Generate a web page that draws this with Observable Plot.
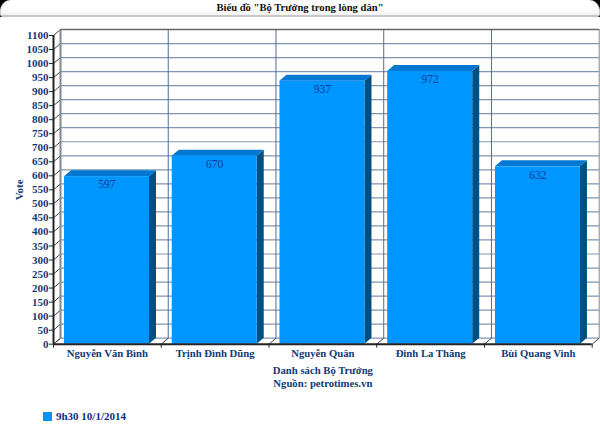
<!DOCTYPE html>
<html><head><meta charset="utf-8">
<script src="https://cdn.jsdelivr.net/npm/d3@7"></script>
<script src="https://cdn.jsdelivr.net/npm/@observablehq/plot@0.6"></script>
<style>
html,body{margin:0;padding:0;background:#fff;width:600px;height:429px;overflow:hidden;font-family:"Liberation Serif",serif;font-weight:bold}
#band{height:17px;background:#000;box-sizing:border-box}
#title{height:17px;box-sizing:border-box;background:linear-gradient(#fff 55%,#f2f2f2);border:1px solid #ccc;border-top:none;border-bottom:2px solid #c8c8c8;border-radius:11px 11px 3px 3px;text-align:center;font-size:10.6px;line-height:16px;color:#111}
#legend{position:absolute;left:43px;top:411px;display:flex;align-items:center;font-size:11px;color:#0d2a8c;line-height:10px}
#legend i{display:block;width:9px;height:9px;background:#0094ff;margin-right:4px}
</style></head><body>
<div id="band"><div id="title">Biểu đồ "Bộ Trưởng trong lòng dân"</div></div>
<div id="chart"></div>
<div id="legend"><i></i><span>9h30 10/1/2014</span></div>
<script>
const ministers = ["Nguyễn Văn Bình","Trịnh Đình Dũng","Nguyễn Quân","Đinh La Thăng","Bùi Quang Vinh"];
const votes = [597,670,937,972,632];
const yTicks = d3.range(0,1101,50);
const edges = [0,1,2,3,4,5];
const depthX = 0.065, depthY = 21.4;
const barStart = 0.102, barEnd = 0.891;
const navy = "#123a78", grid = "#8294b4", wall = "#808890";
const front = "#0096ff", topC = "#0078d2", side = "#004f82";

const bars = ministers.map((name,i)=>({name,i,v:votes[i],x1:i+barStart,x2:i+barEnd}));
const topRows = bars.flatMap(b=>[
  {z:b.i,y:b.v,x1:b.x1,x2:b.x2},
  {z:b.i,y:b.v+depthY,x1:b.x1+depthX,x2:b.x2+depthX}]);
const sideRows = bars.flatMap(b=>[
  {z:b.i,x:b.x2,y1:0,y2:b.v},
  {z:b.i,x:b.x2+depthX,y1:depthY,y2:b.v+depthY}]);

const plot = Plot.plot({
  width:600,height:382,
  marginLeft:53,marginRight:8.3,marginTop:18,marginBottom:55.3,
  x:{type:"linear",domain:[0,5]},
  y:{type:"linear",domain:[0,1100]},
  style:{display:"block",background:"transparent",fontFamily:"'Liberation Serif',serif",fontWeight:"bold"},
  marks:[
    Plot.link(yTicks,{x1:depthX,x2:5+depthX,y1:d=>d+depthY,y2:d=>d+depthY,stroke:grid,strokeWidth:1.2}),
    Plot.link(edges.slice(1,5),{x1:d=>d+depthX,x2:d=>d+depthX,y1:depthY,y2:1100+depthY,stroke:"#4f6d9c",strokeWidth:1}),
    Plot.link(yTicks.slice(0,-1),{x1:0,x2:depthX,y1:d=>d,y2:d=>d+depthY,stroke:"#444",strokeWidth:1}),
    Plot.link(edges,{x1:d=>d,x2:d=>d+depthX,y1:0,y2:depthY,stroke:"#444",strokeWidth:1}),
    Plot.link([1100],{x1:0,x2:depthX,y1:1100,y2:1100+depthY,stroke:"#444",strokeWidth:1}),
    Plot.link([0],{x1:depthX,x2:depthX,y1:depthY,y2:1100+depthY,stroke:wall,strokeWidth:2}),
    Plot.link([0],{x1:5+depthX,x2:5+depthX,y1:depthY,y2:1100+depthY,stroke:wall,strokeWidth:1}),
    Plot.link([0],{x1:depthX,x2:5+depthX,y1:1100+depthY,y2:1100+depthY,stroke:"#666",strokeWidth:1.5}),
    Plot.areaY(sideRows,{x:"x",y1:"y1",y2:"y2",z:"z",fill:side}),
    Plot.areaX(topRows,{y:"y",x1:"x1",x2:"x2",z:"z",fill:topC}),
    Plot.rect(bars,{x1:"x1",x2:"x2",y1:0,y2:"v",fill:front}),
    Plot.text(bars,{x:d=>d.i+0.4965,y:"v",dy:8,text:d=>String(d.v),fill:"#0a3a96",fontSize:11.5,fontWeight:"normal"}),
    Plot.ruleX([0],{y1:0,y2:1100,stroke:"#222",strokeWidth:2}),
    Plot.ruleY([0],{x1:0,x2:5,stroke:"#222",strokeWidth:2}),
    Plot.axisY({ticks:yTicks,tickSize:4,tickPadding:1,tickFormat:d=>String(d),fontSize:11,fill:navy,stroke:"#222",
      label:"Vote",labelAnchor:"center",labelArrow:"none",labelOffset:38}),
    Plot.axisX({ticks:edges,tickSize:4,tickFormat:()=>"",label:null,stroke:"#222"}),
    Plot.axisX({ticks:bars.map(b=>b.i+0.5),tickSize:0,tickPadding:5,tickFormat:d=>ministers[Math.floor(d)],fontSize:10.7,fill:navy,label:null}),
    Plot.text(["Danh sách Bộ Trưởng"],{x:2.5,y:0,dy:26,fill:navy,fontSize:10.7}),
    Plot.text(["Nguồn: petrotimes.vn"],{x:2.5,y:0,dy:39,fill:navy,fontSize:10.7})
  ]
});
document.getElementById("chart").appendChild(plot);
</script>
</body></html>
